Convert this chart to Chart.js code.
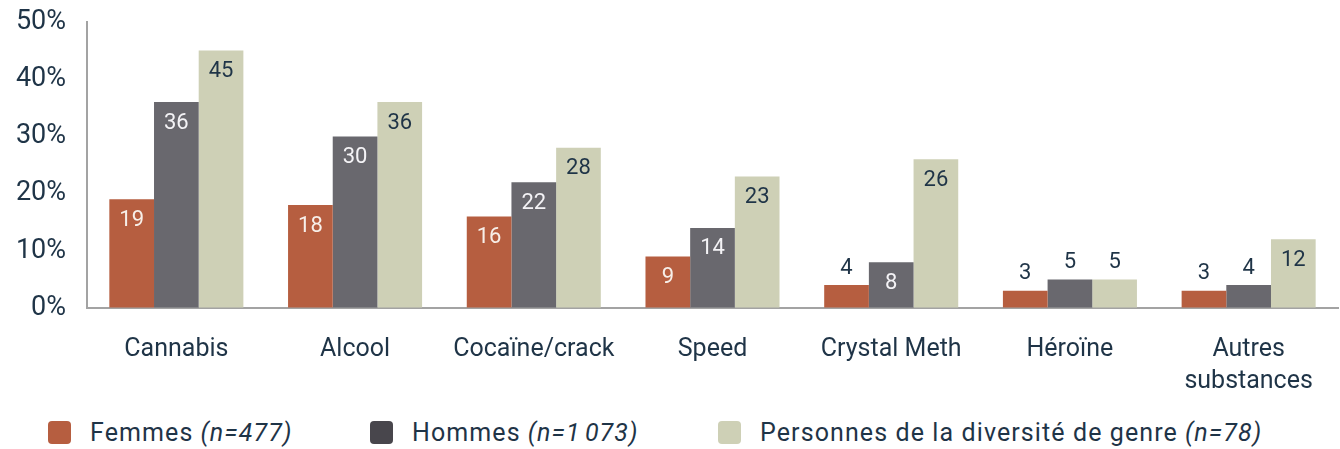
<!DOCTYPE html>
<html lang="fr">
<head>
<meta charset="utf-8">
<script src="https://cdn.jsdelivr.net/npm/chart.js@4/dist/chart.umd.min.js"></script>
<style>
  html, body { margin: 0; padding: 0; background: #fff; }
  body { width: 1340px; height: 449px; position: relative; overflow: hidden; font-family: Roboto, sans-serif; }
  #wrap { position: absolute; left: 0; top: 0; width: 1340px; height: 400px; }
  #legend { position: absolute; left: 0; top: 417px; width: 1340px; height: 30px; }
  .item { position: absolute; top: 0; display: flex; align-items: center; height: 30px; font-size: 25px; letter-spacing: 1.1px; color: #1f3447; white-space: nowrap; }
  .swatch { width: 23px; height: 23px; border-radius: 4px; margin-right: 19px; }
  .item i { margin-left: 7px; }
</style>
</head>
<body>
<div id="wrap"><canvas id="chart" width="1340" height="400"></canvas></div>
<div id="legend"></div>
<script>
// données (%)
const categories = ["Cannabis", "Alcool", "Cocaïne/crack", "Speed", "Crystal Meth", "Héroïne", ["Autres", "substances"]];
const femmes = [19, 18, 16, 9, 4, 3, 3];
const hommes = [36, 30, 22, 14, 8, 5, 4];
const diversite = [45, 36, 28, 23, 26, 5, 12];
const yTicks = [0, 10, 20, 30, 40, 50];
const seriesNames = ["Femmes", "Hommes", "Personnes de la diversité de genre"];
const seriesN = ["(n=477)", "(n=1\u202F073)", "(n=78)"];

const barColors = ["#b65e40", "#69686e", "#ced0b6"];
const legendColors = ["#b65e40", "#48464c", "#ced0b6"];
const insideColors = ["#f7efe9", "#f4f3f6", "#1f3447"];
const dark = "#1f3447";
const axisGrey = "#a3a3a3";

// étiquettes de valeur : dans la barre si assez haute, sinon au-dessus
const valueLabels = {
  id: "valueLabels",
  afterDatasetsDraw(chart) {
    const ctx = chart.ctx;
    ctx.save();
    ctx.font = "22px Roboto, sans-serif";
    ctx.textAlign = "center";
    ctx.textBaseline = "middle";
    chart.data.datasets.forEach((ds, i) => {
      const meta = chart.getDatasetMeta(i);
      meta.data.forEach((bar, j) => {
        const v = ds.data[j];
        if (v >= 6) {
          ctx.fillStyle = insideColors[i];
          ctx.fillText(v, bar.x, bar.y + 21);
        } else {
          ctx.fillStyle = dark;
          ctx.fillText(v, bar.x, bar.y - 17);
        }
      });
    });
    ctx.restore();
  }
};

const canvas = document.getElementById("chart");
const ctx = canvas.getContext("2d");
ctx.letterSpacing = "1.1px"; // police de référence plus large

new Chart(ctx, {
  type: "bar",
  data: {
    labels: categories,
    datasets: [
      { label: seriesNames[0], data: femmes, backgroundColor: barColors[0] },
      { label: seriesNames[1], data: hommes, backgroundColor: barColors[1] },
      { label: seriesNames[2], data: diversite, backgroundColor: barColors[2] }
    ]
  },
  options: {
    responsive: false,
    animation: false,
    devicePixelRatio: 1,
    layout: { padding: { top: 22, right: 2, left: 0, bottom: 0 } },
    datasets: { bar: { categoryPercentage: 0.75, barPercentage: 1.0 } },
    plugins: { legend: { display: false }, tooltip: { enabled: false } },
    scales: {
      x: {
        afterFit: (s) => { s.height = 92; },
        grid: { display: false, drawTicks: false },
        border: { display: true, color: axisGrey, width: 2 },
        ticks: {
          color: dark,
          padding: 25,
          maxRotation: 0,
          autoSkip: false,
          font: { family: "Roboto, sans-serif", size: 25, lineHeight: 1.3 }
        }
      },
      y: {
        min: 0,
        max: 50,
        afterFit: (s) => { s.width = 87; },
        afterBuildTicks: (s) => { s.ticks = yTicks.map(v => ({ value: v })); },
        // traits de graduation invisibles pour décaler les libellés
        grid: { display: true, drawOnChartArea: false, drawTicks: true, tickLength: 21, color: "rgba(0,0,0,0)" },
        border: { display: true, color: axisGrey, width: 2 },
        ticks: {
          color: dark,
          padding: 0,
          font: { family: "Roboto, sans-serif", size: 27 },
          callback: (v) => v + "%"
        }
      }
    }
  },
  plugins: [valueLabels]
});

// légende HTML (partie en italique)
const legendLeft = [48, 370, 718];
const legend = document.getElementById("legend");
seriesNames.forEach((name, i) => {
  const item = document.createElement("div");
  item.className = "item";
  item.style.left = legendLeft[i] + "px";
  item.innerHTML = `<span class="swatch" style="background:${legendColors[i]}"></span>${name}<i>${seriesN[i]}</i>`;
  legend.appendChild(item);
});
</script>
</body>
</html>
